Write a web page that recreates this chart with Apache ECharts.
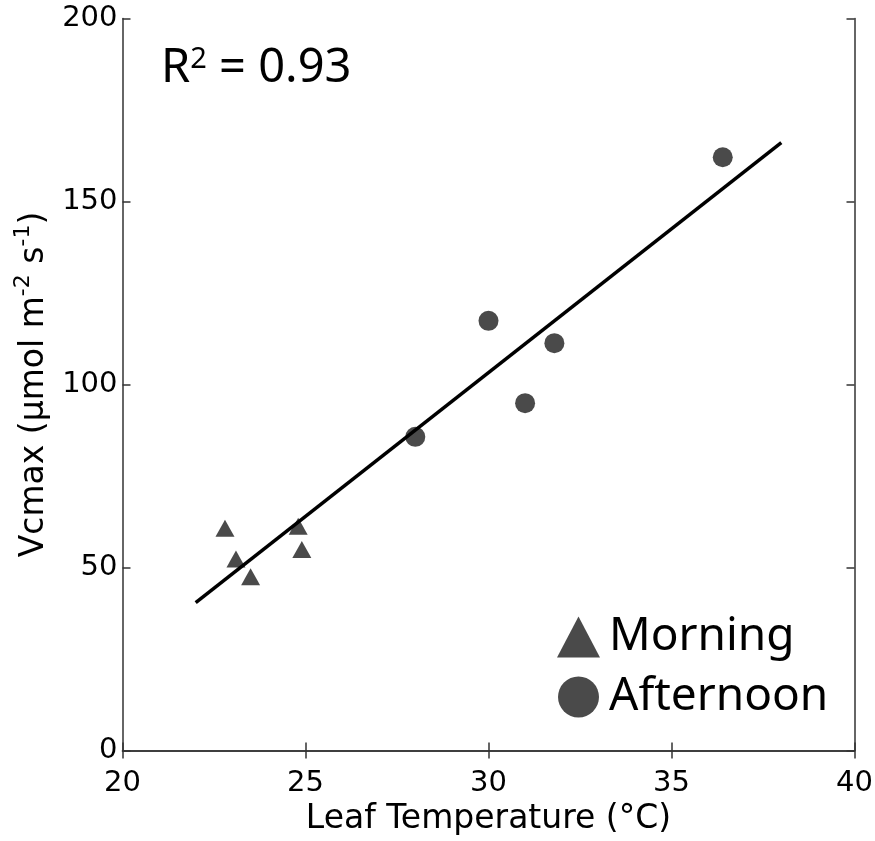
<!DOCTYPE html>
<html>
<head>
<meta charset="utf-8">
<script src="https://cdn.jsdelivr.net/npm/echarts@6/dist/echarts.min.js"></script>
<style>
  html, body { margin: 0; padding: 0; background: #fff; }
  #chart { width: 875px; height: 841px; }
</style>
</head>
<body>
<div id="chart"></div>
<script>
// morning points (leaf temp, Vcmax)
const morningTemp = [22.8, 23.1, 23.5, 24.8, 24.9]
const morningVcmax = [60.7, 52.3, 47.5, 61.3, 54.9]
// afternoon points
const afternoonTemp = [28.0, 30.0, 31.0, 31.8, 36.4]
const afternoonVcmax = [85.7, 117.4, 94.9, 111.3, 162.1]
// regression line end points
const fitTemp = [22.0, 38.0]
const fitVcmax = [40.4, 166.1]

const pair = (xs, ys) => xs.map((x, i) => [x, ys[i]])

const tickFont = 'DejaVu Sans'
const markColor = '#4a4a4a'
const axisColor = '#333'

const myChart = echarts.init(document.getElementById('chart'))

const option = {
  animation: false,
  backgroundColor: '#fff',
  grid: { left: 122.5, right: 20.5, top: 18.5, bottom: 90.5, outerBoundsMode: 'none', containLabel: false },
  title: {
    text: 'R{s|2} = 0.93',
    left: 156,
    top: 40,
    textStyle: {
      fontFamily: 'Noto Sans',
      fontSize: 47,
      fontWeight: 'normal',
      color: '#000',
      rich: {
        s: { fontFamily: 'Noto Sans', fontSize: 29, verticalAlign: 'top', lineHeight: 29, color: '#000' }
      }
    }
  },
  legend: {
    orient: 'vertical',
    left: 552,
    top: 607,
    itemWidth: 43,
    itemHeight: 41,
    itemGap: 10,
    data: [
      { name: 'Morning', icon: 'triangle' },
      { name: 'Afternoon', icon: 'circle' }
    ],
    textStyle: {
      fontFamily: 'Noto Sans',
      fontSize: 46,
      lineHeight: 50,
      color: '#000',
      padding: [0, 0, 0, 4]
    }
  },
  xAxis: [
    {
      type: 'value',
      min: 20,
      max: 40,
      interval: 5,
      name: 'Leaf Temperature (°C)',
      nameLocation: 'middle',
      nameGap: 52,
      nameTextStyle: { fontFamily: tickFont, fontSize: 33, color: '#000' },
      axisLine: { lineStyle: { color: axisColor, width: 1.5 } },
      axisTick: { inside: true, length: 8, lineStyle: { color: axisColor, width: 1.5 } },
      axisLabel: { fontFamily: tickFont, fontSize: 29, color: '#000', margin: 18 },
      splitLine: { show: false }
    },
    {
      type: 'value',
      position: 'top',
      min: 20,
      max: 40,
      interval: 5,
      axisLine: { show: true, lineStyle: { color: axisColor, width: 1.5 } },
      axisTick: { show: true, inside: true, length: 8, lineStyle: { color: axisColor, width: 1.5 } },
      axisLabel: { show: false },
      splitLine: { show: false }
    }
  ],
  yAxis: [
    {
      type: 'value',
      min: 0,
      max: 200,
      interval: 50,
      name: '{a|Vcmax (μmol m}{s|-2}{a| s}{s|-1}{a|)}',
      nameLocation: 'middle',
      nameGap: 64,
      nameTextStyle: {
        rich: {
          a: { fontFamily: tickFont, fontSize: 33, color: '#000', lineHeight: 44 },
          s: { fontFamily: tickFont, fontSize: 22, color: '#000', lineHeight: 22, verticalAlign: 'top' }
        }
      },
      axisLine: { lineStyle: { color: axisColor, width: 1.5 } },
      axisTick: { inside: true, length: 8, lineStyle: { color: axisColor, width: 1.5 } },
      axisLabel: { fontFamily: tickFont, fontSize: 29, color: '#000', margin: 5 },
      splitLine: { show: false }
    },
    {
      type: 'value',
      position: 'right',
      min: 0,
      max: 200,
      interval: 50,
      axisLine: { show: true, lineStyle: { color: axisColor, width: 1.5 } },
      axisTick: { show: true, inside: true, length: 8, lineStyle: { color: axisColor, width: 1.5 } },
      axisLabel: { show: false },
      splitLine: { show: false }
    }
  ],
  series: [
    {
      name: 'Morning',
      type: 'scatter',
      symbol: 'triangle',
      symbolSize: [19, 17],
      itemStyle: { color: markColor, opacity: 1 },
      data: pair(morningTemp, morningVcmax),
      z: 3
    },
    {
      name: 'Afternoon',
      type: 'scatter',
      symbol: 'circle',
      symbolSize: 20,
      itemStyle: { color: markColor, opacity: 1 },
      data: pair(afternoonTemp, afternoonVcmax),
      z: 3
    },
    {
      name: 'fit',
      type: 'line',
      showSymbol: false,
      symbol: 'none',
      lineStyle: { color: '#000', width: 3.5 },
      data: pair(fitTemp, fitVcmax),
      z: 4
    }
  ]
}

myChart.setOption(option)
</script>
</body>
</html>
